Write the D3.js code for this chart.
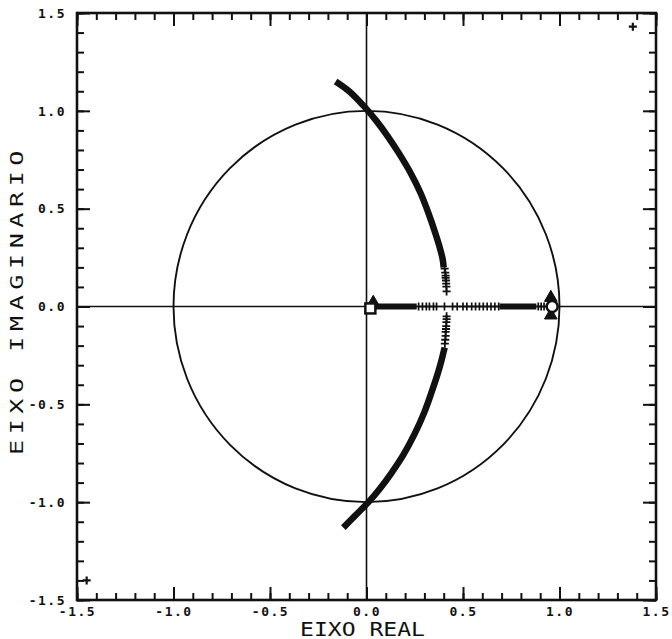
<!DOCTYPE html>
<html><head><meta charset="utf-8">
<script src="https://cdn.jsdelivr.net/npm/d3@7"></script>
<style>body{margin:0;background:#fff}svg{display:block}</style>
</head><body>
<svg id="c" width="672" height="639"></svg>
<script>
// ---- data ----
const domainX = [-1.5, 1.5];
const domainY = [-1.5, 1.5];
const majorTicks = [-1.5, -1.0, -0.5, 0.0, 0.5, 1.0, 1.5];
const tickLabels = ["-1.5", "-1.0", "-0.5", "0.0", "0.5", "1.0", "1.5"];
const unitRadius = 1.0;
// upper locus branch (dense band of markers)
const upperBranch = [[-0.16,1.15],[-0.09,1.10],[-0.01,1.02],[0.05,0.95],[0.11,0.87],[0.17,0.78],[0.23,0.68],[0.28,0.58],[0.32,0.48],[0.355,0.38],[0.38,0.30],[0.395,0.24],[0.40,0.20]];
// lower locus branch
const lowerBranch = [[-0.12,-1.13],[-0.06,-1.07],[0.01,-1.00],[0.07,-0.93],[0.13,-0.85],[0.19,-0.76],[0.25,-0.65],[0.30,-0.54],[0.34,-0.43],[0.37,-0.34],[0.39,-0.27],[0.405,-0.21]];
// separated "+" markers at the ends of the branches
const upperPlus = [[0.405,0.194],[0.408,0.173],[0.41,0.158],[0.41,0.146],[0.412,0.133],[0.413,0.117],[0.414,0.102],[0.415,0.077]];
const lowerPlus = [[0.415,-0.05],[0.415,-0.065],[0.414,-0.08],[0.413,-0.10],[0.412,-0.115],[0.41,-0.13],[0.41,-0.15],[0.408,-0.17],[0.406,-0.19]];
// real-axis branch: dense bands and separated "+" markers
const realBands = [[0.02,0.26],[0.69,0.88]];
const realPlus = [0.27,0.29,0.31,0.326,0.347,0.363,0.404,0.446,0.47,0.50,0.52,0.545,0.565,0.585,0.605,0.625,0.645,0.665,0.685,0.89,0.905,0.92];
// special markers
const triangles = [[0.955,0.045],[0.955,-0.045],[0.035,0.02]];
const circles = [[0.962,0.0]];
const squares = [[0.02,-0.01]];
const cornerPlus = [[1.38,1.43],[-1.45,-1.40]];

// ---- drawing ----
const svg = d3.select("#c");
const x = d3.scaleLinear().domain(domainX).range([77, 656]);
const y = d3.scaleLinear().domain(domainY).range([600, 13]);
const ink = "#111";
const minor = d3.range(-15, 16).map(d => d / 10);
const fmt = d => tickLabels[majorTicks.findIndex(t => Math.abs(t - d) < 1e-9)] || "";

function axisStyle(g){ g.select(".domain").remove(); g.selectAll("line").attr("stroke", ink).attr("stroke-width", 2);
  g.selectAll("text").attr("fill", ink).attr("font-family", "DejaVu Sans Mono").attr("font-size", 13)
   .attr("font-weight","bold").attr("letter-spacing", 1.5); }

// minor ticks
svg.append("g").attr("transform",`translate(0,${y(-1.5)})`).call(d3.axisBottom(x).tickValues(minor).tickSize(-7).tickFormat("")).call(axisStyle);
svg.append("g").attr("transform",`translate(0,${y(1.5)})`).call(d3.axisTop(x).tickValues(minor).tickSize(-7).tickFormat("")).call(axisStyle);
svg.append("g").attr("transform",`translate(${x(-1.5)},0)`).call(d3.axisLeft(y).tickValues(minor).tickSize(-7).tickFormat("")).call(axisStyle);
svg.append("g").attr("transform",`translate(${x(1.5)},0)`).call(d3.axisRight(y).tickValues(minor).tickSize(-7).tickFormat("")).call(axisStyle);
// major ticks + labels
svg.append("g").attr("transform",`translate(0,${y(-1.5)})`).call(d3.axisBottom(x).tickValues(majorTicks).tickSize(-13).tickPadding(7).tickFormat(fmt)).call(axisStyle);
svg.append("g").attr("transform",`translate(0,${y(1.5)})`).call(d3.axisTop(x).tickValues(majorTicks).tickSize(-13).tickFormat("")).call(axisStyle);
svg.append("g").attr("transform",`translate(${x(-1.5)},0)`).call(d3.axisLeft(y).tickValues(majorTicks).tickSize(-13).tickPadding(11).tickFormat(fmt)).call(axisStyle);
svg.append("g").attr("transform",`translate(${x(1.5)},0)`).call(d3.axisRight(y).tickValues(majorTicks).tickSize(-13).tickFormat("")).call(axisStyle);

// frame
svg.append("rect").attr("x", x(-1.5)).attr("y", y(1.5)).attr("width", x(1.5)-x(-1.5)).attr("height", y(-1.5)-y(1.5))
  .attr("fill","none").attr("stroke",ink).attr("stroke-width",2.6);
// axes through origin
svg.append("line").attr("x1",x(-1.5)).attr("x2",x(1.5)).attr("y1",y(0)).attr("y2",y(0)).attr("stroke",ink).attr("stroke-width",1.6);
svg.append("line").attr("x1",x(0)).attr("x2",x(0)).attr("y1",y(1.5)).attr("y2",y(-1.5)).attr("stroke",ink).attr("stroke-width",1.6);
// unit circle
svg.append("ellipse").attr("cx",x(0)).attr("cy",y(0)).attr("rx",x(unitRadius)-x(0)).attr("ry",y(0)-y(unitRadius))
  .attr("fill","none").attr("stroke",ink).attr("stroke-width",1.9);

// branches
const line = d3.line().x(d=>x(d[0])).y(d=>y(d[1])).curve(d3.curveCatmullRom);
[upperBranch, lowerBranch].forEach(b => {
  svg.append("path").attr("d", line(b)).attr("fill","none").attr("stroke",ink).attr("stroke-width",6.5).attr("stroke-linecap","butt");
});
// real-axis bands
svg.selectAll(".band").data(realBands).join("line").attr("x1",d=>x(d[0])).attr("x2",d=>x(d[1]))
  .attr("y1",y(0)).attr("y2",y(0)).attr("stroke",ink).attr("stroke-width",6);

// plus markers
const plusPath = (cx, cy, s) => `M${cx-s},${cy}H${cx+s}M${cx},${cy-s}V${cy+s}`;
svg.selectAll(".pu").data(upperPlus.concat(lowerPlus)).join("path")
  .attr("d", d => plusPath(x(d[0]), y(d[1]), 4)).attr("stroke",ink).attr("stroke-width",1.8);
svg.selectAll(".pr").data(realPlus).join("path")
  .attr("d", d => plusPath(x(d), y(0), 4)).attr("stroke",ink).attr("stroke-width",1.7);
svg.selectAll(".pc").data(cornerPlus).join("path")
  .attr("d", d => plusPath(x(d[0]), y(d[1]), 4)).attr("stroke",ink).attr("stroke-width",2.2);

// triangles, circles, squares
const tri = d3.symbol().type(d3.symbolTriangle).size(70);
svg.selectAll(".tr").data(triangles).join("path").attr("d", tri)
  .attr("transform", d => `translate(${x(d[0])},${y(d[1])})`).attr("fill",ink).attr("stroke",ink).attr("stroke-width",1);
svg.selectAll(".ci").data(circles).join("circle").attr("cx",d=>x(d[0])).attr("cy",d=>y(d[1])).attr("r",5.5)
  .attr("fill","#fff").attr("stroke",ink).attr("stroke-width",2.5);
svg.selectAll(".sq").data(squares).join("rect").attr("x",d=>x(d[0])-5).attr("y",d=>y(d[1])-5).attr("width",10).attr("height",10)
  .attr("fill","#fff").attr("stroke",ink).attr("stroke-width",2.5);

// axis titles
svg.append("text").attr("x",300).attr("y",636).attr("textLength",125).attr("lengthAdjust","spacingAndGlyphs")
  .attr("font-family","DejaVu Sans Mono").attr("font-size",19).attr("fill",ink).text("EIXO REAL");
svg.append("text").attr("transform","translate(23,455) rotate(-90)").attr("textLength",310).attr("lengthAdjust","spacingAndGlyphs")
  .attr("font-family","DejaVu Sans Mono").attr("font-size",18).attr("letter-spacing",4).attr("fill",ink).text("EIXO IMAGINARIO");
</script>
</body></html>
